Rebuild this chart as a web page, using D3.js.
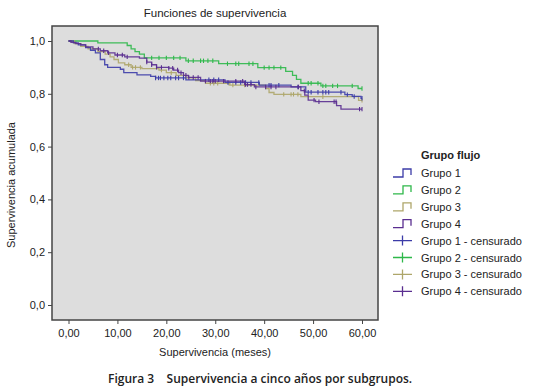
<!DOCTYPE html>
<html lang="es">
  <head>
    <meta charset="utf-8">
    <title>Funciones de supervivencia</title>
    <script src="https://d3js.org/d3.v7.min.js"></script>
    <style>
      body { margin: 0; background: #fff; }
      text { font-family: "Liberation Sans", Arial, sans-serif; fill: #222; }
    </style>
  </head>
  <body>
    <script>
    let w = 544;
    let h = 392;

    // step times (meses) and cumulative survival for each group
    let g1Times = [0, 1, 2, 3.5, 4.5, 5.5, 6.5, 7.4, 8, 10.6, 11.3, 14, 16.8, 17.8, 24, 32, 39, 45.5, 48.5, 56.5, 58, 59.8];
    let g1Surv  = [1, 0.993, 0.985, 0.975, 0.965, 0.955, 0.93, 0.91, 0.9, 0.893, 0.88, 0.872, 0.866, 0.86, 0.853, 0.843, 0.833, 0.826, 0.806, 0.797, 0.79, 0.783];
    let g1Cens  = [17.8, 18.4, 18.8, 19.5, 20.3, 20.9, 21.9, 22.5, 23.5, 28.7, 29.7, 30.7, 32.6, 34.2, 35.2, 36.2, 37.3, 38.9, 41, 41.4, 43, 46.9, 49, 49.6, 51, 52, 52.6, 53.2, 55.7, 57, 58.4, 60];

    let g2Times = [0, 6, 12, 12.8, 13.6, 14.5, 15.5, 24, 30.7, 38.7, 44.4, 45.8, 46.6, 47.5, 51.6, 59.2];
    let g2Surv  = [1, 0.993, 0.983, 0.97, 0.96, 0.95, 0.936, 0.925, 0.914, 0.899, 0.885, 0.87, 0.855, 0.84, 0.83, 0.82];
    let g2Cens  = [17, 18.5, 20, 21.5, 22.8, 24.5, 25.5, 27, 27.6, 28.5, 29.5, 32.5, 34.2, 34.8, 36.9, 37.7, 40, 41, 42, 43.4, 49, 49.6, 51, 52, 52.6, 54, 55, 58, 60];

    let g3Times = [0, 1.2, 2.5, 4, 6, 7.5, 8.5, 9.3, 10.2, 11.5, 12.8, 15, 18.5, 20, 22, 24, 26, 28, 33, 40.3, 41, 42, 47.5, 59.3];
    let g3Surv  = [1, 0.99, 0.98, 0.97, 0.96, 0.95, 0.94, 0.93, 0.917, 0.91, 0.9, 0.895, 0.89, 0.88, 0.87, 0.86, 0.85, 0.84, 0.833, 0.82, 0.805, 0.798, 0.789, 0.775];
    let g3Cens  = [12.3, 13.1, 13.7, 14.7, 19, 21, 29, 29.7, 30.5, 32.8, 33.6, 36, 44, 45.5, 46, 46.9, 52, 60];

    let g4Times = [0, 0.5, 1.5, 2.5, 3.5, 5, 6.5, 8, 9.5, 11.5, 14.5, 16, 17, 18, 20.5, 21.5, 22.5, 23.5, 24.5, 27, 36, 38, 47.5, 48.3, 49, 50.5, 54.8, 55.7];
    let g4Surv  = [1, 0.995, 0.99, 0.985, 0.978, 0.97, 0.963, 0.955, 0.947, 0.94, 0.935, 0.92, 0.91, 0.9, 0.897, 0.89, 0.88, 0.87, 0.862, 0.848, 0.835, 0.826, 0.812, 0.795, 0.776, 0.77, 0.755, 0.742];
    let g4Cens  = [6.1, 7.2, 8.2, 10, 11, 12, 16, 17, 18, 19, 20.5, 21.3, 22.3, 23, 24, 24.6, 25.5, 26.5, 28, 29, 29.5, 30, 31.7, 34.2, 35.6, 36.2, 36.6, 37.3, 38.3, 40.3, 41.4, 42.4, 47, 48.2, 50.2, 51.2, 54.3, 54.7, 59.5, 60];

    let groupNames = ["Grupo 1", "Grupo 2", "Grupo 3", "Grupo 4"];
    let colors = ["#3c3ca8", "#2eb84a", "#aea66a", "#5a2e90"];
    let xTicks = [0, 10, 20, 30, 40, 50, 60];
    let yTicks = [0, 0.2, 0.4, 0.6, 0.8, 1.0];

    let groups = [
      {name: groupNames[0], times: g1Times, surv: g1Surv, cens: g1Cens, color: colors[0]},
      {name: groupNames[1], times: g2Times, surv: g2Surv, cens: g2Cens, color: colors[1]},
      {name: groupNames[2], times: g3Times, surv: g3Surv, cens: g3Cens, color: colors[2]},
      {name: groupNames[3], times: g4Times, surv: g4Surv, cens: g4Cens, color: colors[3]}
    ];

    // plot frame
    let pLeft = 52, pRight = 378, pTop = 26, pBottom = 320;

    let svg = d3.select("body")
                .append("svg")
                .attr("width", w)
                .attr("height", h);

    let xScale = d3.scaleLinear()
                  .domain([0, 60])
                  .range([68.5, 362]);
    let yScale = d3.scaleLinear()
                  .domain([0, 1])
                  .range([305, 41]);

    svg.append("rect")
      .attr("x", pLeft).attr("y", pTop)
      .attr("width", pRight - pLeft).attr("height", pBottom - pTop)
      .attr("fill", "#dddddd");

    // survival value at time t
    function survAt(g, t) {
      let s = 1;
      g.times.forEach((tt, i) => { if (tt <= t) s = g.surv[i]; });
      return s;
    }

    let line = d3.line()
      .x(d => xScale(d[0]))
      .y(d => yScale(d[1]))
      .curve(d3.curveStepAfter);

    let drawOrder = [1, 2, 0, 3];
    drawOrder.forEach(k => {
      let g = groups[k];
      let pts = g.times.map((t, i) => [t, g.surv[i]]);
      let tEnd = d3.max(g.cens);
      pts.push([tEnd, survAt(g, tEnd)]);
      svg.append("path")
        .datum(pts)
        .attr("d", line)
        .attr("fill", "none")
        .attr("stroke", g.color)
        .attr("stroke-width", 1.3)
        .attr("stroke-opacity", 0.9);

      svg.selectAll(null)
        .data(g.cens)
        .enter()
        .append("line")
        .attr("x1", d => xScale(d))
        .attr("x2", d => xScale(d))
        .attr("y1", d => yScale(survAt(g, d)) - 2.2)
        .attr("y2", d => yScale(survAt(g, d)) + 2.2)
        .attr("stroke", g.color)
        .attr("stroke-width", 1.1);
    });

    // frame border
    svg.append("rect")
      .attr("x", pLeft).attr("y", pTop)
      .attr("width", pRight - pLeft).attr("height", pBottom - pTop)
      .attr("fill", "none")
      .attr("stroke", "#444")
      .attr("stroke-width", 1.5);

    let fmtY = d => d3.format(".1f")(d).replace(".", ",");
    let fmtX = d => d3.format(".2f")(d).replace(".", ",");

    let yAxis = svg.append("g")
      .attr("transform", "translate(" + pLeft + ",0)")
      .call(d3.axisLeft(yScale).tickValues(yTicks).tickFormat(fmtY).tickSize(4).tickPadding(3));
    let xAxis = svg.append("g")
      .attr("transform", "translate(0," + pBottom + ")")
      .call(d3.axisBottom(xScale).tickValues(xTicks).tickFormat(fmtX).tickSize(4).tickPadding(5));
    [yAxis, xAxis].forEach(a => {
      a.select(".domain").remove();
      a.selectAll("line").attr("stroke", "#444");
      a.selectAll("text").style("font-size", "11px").attr("fill", "#222")
        .style("font-family", "'Liberation Sans', Arial, sans-serif");
    });

    svg.append("text")
      .attr("x", 215).attr("y", 17)
      .attr("text-anchor", "middle")
      .style("font-size", "11.5px")
      .text("Funciones de supervivencia");

    svg.append("text")
      .attr("x", 215).attr("y", 356)
      .attr("text-anchor", "middle")
      .style("font-size", "11px")
      .text("Supervivencia (meses)");

    svg.append("text")
      .attr("transform", "translate(15,185) rotate(-90)")
      .attr("text-anchor", "middle")
      .style("font-size", "11px")
      .text("Supervivencia acumulada");

    // legend
    let lg = svg.append("g");
    lg.append("text")
      .attr("x", 421).attr("y", 159)
      .style("font-size", "11px")
      .style("font-weight", "bold")
      .text("Grupo flujo");

    let legendItems = groups.map(g => ({label: g.name, color: g.color, type: "step"}))
      .concat(groups.map(g => ({label: g.name + " - censurado", color: g.color, type: "cens"})));

    legendItems.forEach((d, i) => {
      let y = 173 + i * 16.9;
      if (d.type === "step") {
        lg.append("path")
          .attr("d", "M393," + (y + 4) + "H403V" + (y - 4) + "H411V" + (y + 2))
          .attr("fill", "none").attr("stroke", d.color).attr("stroke-width", 1.3);
      } else {
        lg.append("path")
          .attr("d", "M393," + y + "H412M402.5," + (y - 5) + "V" + (y + 5))
          .attr("fill", "none").attr("stroke", d.color).attr("stroke-width", 1.3);
      }
      lg.append("text")
        .attr("x", 421).attr("y", y + 4)
        .style("font-size", "11px")
        .text(d.label);
    });

    svg.append("text")
      .attr("x", 108).attr("y", 383)
      .style("font-family", "'Open Sans', sans-serif")
      .style("font-size", "12px")
      .style("font-weight", "600")
      .attr("fill", "#333")
      .attr("xml:space", "preserve")
      .text("Figura 3    Supervivencia a cinco años por subgrupos.");
    </script>
  </body>
</html>
